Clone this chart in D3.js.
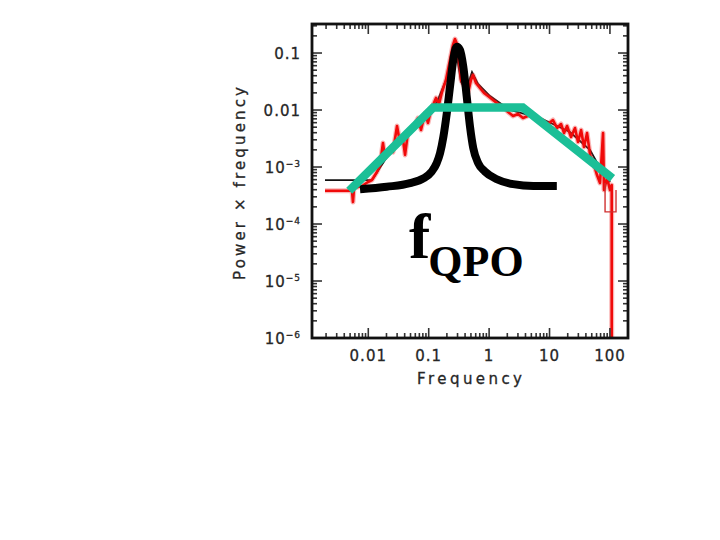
<!DOCTYPE html>
<html><head><meta charset="utf-8">
<script src="https://cdn.jsdelivr.net/npm/d3@7"></script>
<style>body{margin:0;background:#fff}svg{display:block}</style>
</head><body>
<svg id="chart" width="720" height="540"></svg>
<script>
// ---- data ----
const redFreq = [0.00192,0.00537,0.00558,0.0058,0.00787,0.00989,0.0115,0.0139,0.0156,0.0175,0.0189,0.0229,0.0256,0.0299,0.0322,0.0376,0.0406,0.0454,0.055,0.0665,0.0746,0.0869,0.0973,0.109,0.132,0.148,0.166,0.193,0.225,0.252,0.272,0.294,0.318,0.343,0.399,0.448,0.501,0.541,0.607,0.706,0.824,0.96,1.16,1.40,1.70,2.06,2.49,3.01,3.64,4.75,5.97,7.52,9.44,11.4,13.3,15.5,17.4,19.5,22.7,26.4,29.6,33.3,37.2,41.8,46.9,54.6,61.1,68.5,76.9,79.8,89.5,100.4,107,107];
const redPower = [3.84e-4,3.84e-4,2.43e-4,4.28e-4,4.65e-4,5.46e-4,5.91e-4,8.17e-4,1.08e-3,2.64e-3,1.44e-3,1.99e-3,1.83e-3,5.24e-3,3.36e-3,2.98e-3,1.63e-3,4.11e-3,4.83e-3,7.24e-3,4.46e-3,8.85e-3,5.92e-3,0.01,0.0163,0.0127,0.0207,0.0336,0.0753,0.138,0.176,0.144,0.0753,0.0336,0.0243,0.0199,0.0336,0.0411,0.0298,0.0243,0.0199,0.0176,0.015,0.0127,0.0113,9.23e-3,7.86e-3,8.51e-3,7.24e-3,8.17e-3,7.24e-3,6.68e-3,5.68e-3,6.68e-3,4.83e-3,5.68e-3,3.94e-3,5.24e-3,3.36e-3,4.83e-3,2.75e-3,4.46e-3,2.24e-3,3.94e-3,1.63e-3,1.08e-3,7.24e-4,5.24e-4,3.94e-3,3.94e-4,6.41e-4,3.94e-4,4.83e-4,1e-6];

const stepFreq  = [83, 83, 126, 126];
const stepPower = [5.24e-4, 1.63e-4, 1.63e-4, 3.94e-4];

const modelFreq  = [0.00192,0.0115,0.0189,0.0335,0.0718,0.137,0.209,0.272,0.343,0.415,0.521,0.655,1.035,2.22,6.97,21.8,46.9,68.5,100.4];
const modelPower = [5.91e-4,5.91e-4,1.33e-3,3.23e-3,6.68e-3,0.0138,0.0411,0.138,0.031,0.0224,0.0464,0.0286,0.0176,0.01,7.24e-3,4.11e-3,1.99e-3,9.59e-4,5.46e-4];

const qpoFreq  = [0.0073,0.0202,0.049,0.0815,0.112,0.135,0.154,0.175,0.199,0.225,0.255,0.291,0.33,0.374,0.426,0.483,0.547,0.662,0.855,1.34,2.5,5.4,13.2];
const qpoPower = [4.06e-4,4.5e-4,5.2e-4,6.3e-4,8.3e-4,1.16e-3,1.74e-3,3.4e-3,8.7e-3,0.0256,0.0753,0.129,0.113,0.0575,0.0171,5.1e-3,2.13e-3,1.16e-3,8.3e-4,6.1e-4,5.0e-4,4.65e-4,4.65e-4];

const brokenFreq  = [0.00484, 0.119, 3.6, 110];
const brokenPower = [3.84e-4, 0.0111, 0.0111, 6.34e-4];

const xTickValues = [0.01, 0.1, 1, 10, 100];
const xTickLabels = ["0.01", "0.1", "1", "10", "100"];
const yTickValues = [1e-6, 1e-5, 1e-4, 1e-3, 0.01, 0.1];
const yTickLabels = ["10^−6", "10^−5", "10^−4", "10^−3", "0.01", "0.1"];

const xTitle = "Frequency";
const yTitle = "Power × frequency";
const annoMain = "f";
const annoSub = "QPO";

// ---- layout ----
const L = 312, R = 628, T = 24, B = 338;
const svg = d3.select("#chart");

const x = d3.scaleLog().domain([0.00117, 199]).range([L, R]);
const y = d3.scaleLog().domain([1e-6, 0.323]).range([B, T]);

const zip = (a, b) => a.map((v, i) => [v, b[i]]);
const line = d3.line().x(d => x(d[0])).y(d => y(d[1]));

// thin black model
svg.append("path").datum(zip(modelFreq, modelPower))
  .attr("d", line).attr("fill", "none").attr("stroke", "#111").attr("stroke-width", 1.8);

// red spectrum (soft band + line)
const redData = zip(redFreq, redPower);
svg.append("path").datum(redData)
  .attr("d", line).attr("fill", "none").attr("stroke", "#f03030").attr("stroke-opacity", 0.35)
  .attr("stroke-width", 5).attr("stroke-linejoin", "round");
svg.append("path").datum(redData)
  .attr("d", line).attr("fill", "none").attr("stroke", "#f00a0a")
  .attr("stroke-width", 2.6).attr("stroke-linejoin", "round");
svg.append("path").datum(zip(stepFreq, stepPower))
  .attr("d", line).attr("fill", "none").attr("stroke", "#d03030").attr("stroke-width", 1.4);

// thick black QPO Lorentzian
svg.append("path").datum(zip(qpoFreq, qpoPower))
  .attr("d", d3.line().x(d => x(d[0])).y(d => y(d[1])).curve(d3.curveMonotoneX))
  .attr("fill", "none").attr("stroke", "#000").attr("stroke-width", 8);

// green broken power law
svg.append("path").datum(zip(brokenFreq, brokenPower))
  .attr("d", line).attr("fill", "none").attr("stroke", "#1bbf97")
  .attr("stroke-width", 8.5).attr("stroke-linejoin", "miter");

// ---- frame and ticks ----
const tickG = svg.append("g").attr("stroke", "#333").attr("stroke-width", 1.6);
const xAll = x.ticks().filter(v => x(v) > L + 1 && x(v) < R - 1);
const yAll = y.ticks().filter(v => y(v) > T + 1 && y(v) < B - 1);
const isMajor = v => Math.abs(Math.log10(v) - Math.round(Math.log10(v))) < 1e-6;
xAll.forEach(v => {
  const len = isMajor(v) ? 10 : 5;
  tickG.append("line").attr("x1", x(v)).attr("x2", x(v)).attr("y1", B).attr("y2", B - len);
  tickG.append("line").attr("x1", x(v)).attr("x2", x(v)).attr("y1", T).attr("y2", T + len);
});
yAll.forEach(v => {
  const len = isMajor(v) ? 10 : 5;
  tickG.append("line").attr("y1", y(v)).attr("y2", y(v)).attr("x1", L).attr("x2", L + len);
  tickG.append("line").attr("y1", y(v)).attr("y2", y(v)).attr("x1", R).attr("x2", R - len);
});
svg.append("rect").attr("x", L).attr("y", T).attr("width", R - L).attr("height", B - T)
  .attr("fill", "none").attr("stroke", "#111").attr("stroke-width", 2.8);

// ---- tick labels ----
const font = "'DejaVu Sans', Verdana, sans-serif";
const ink = "#262626";
svg.append("g").selectAll("text").data(xTickValues).join("text")
  .attr("x", d => x(d)).attr("y", 361)
  .attr("text-anchor", "middle").attr("font-family", font).attr("font-size", 15)
  .attr("letter-spacing", 1).attr("fill", ink).attr("stroke", ink).attr("stroke-width", 0.3)
  .text((d, i) => xTickLabels[i]);

const yl = svg.append("g");
yTickValues.forEach((v, i) => {
  const lab = yTickLabels[i];
  const t = yl.append("text").attr("x", 301).attr("y", y(v) + 5.5)
    .attr("text-anchor", "end").attr("font-family", font).attr("font-size", 15)
    .attr("letter-spacing", 1).attr("fill", ink).attr("stroke", ink).attr("stroke-width", 0.3);
  if (lab.includes("^")) {
    const [base, exp] = lab.split("^");
    t.append("tspan").text(base);
    t.append("tspan").attr("dy", -6).attr("font-size", 9).text(exp);
  } else {
    t.text(lab);
  }
});

// ---- axis titles ----
svg.append("text").attr("x", 469.5).attr("y", 384).attr("text-anchor", "middle")
  .attr("font-family", font).attr("font-size", 15).attr("fill", ink)
  .attr("stroke", ink).attr("stroke-width", 0.3)
  .attr("textLength", 105).attr("lengthAdjust", "spacing").text(xTitle);
svg.append("text").attr("transform", "translate(245,183.5) rotate(-90)")
  .attr("text-anchor", "middle").attr("font-family", font).attr("font-size", 15)
  .attr("fill", ink).attr("stroke", ink).attr("stroke-width", 0.3)
  .attr("textLength", 193).attr("lengthAdjust", "spacing").text(yTitle);

// ---- annotation ----
const anno = svg.append("text").attr("x", 409).attr("y", 258)
  .attr("font-family", "'Liberation Serif', 'Times New Roman', serif")
  .attr("font-weight", "bold").attr("fill", "#000");
anno.append("tspan").attr("font-size", 64).text(annoMain);
anno.append("tspan").attr("font-size", 44).attr("dy", 18).attr("dx", -2).text(annoSub);
</script>
</body></html>
